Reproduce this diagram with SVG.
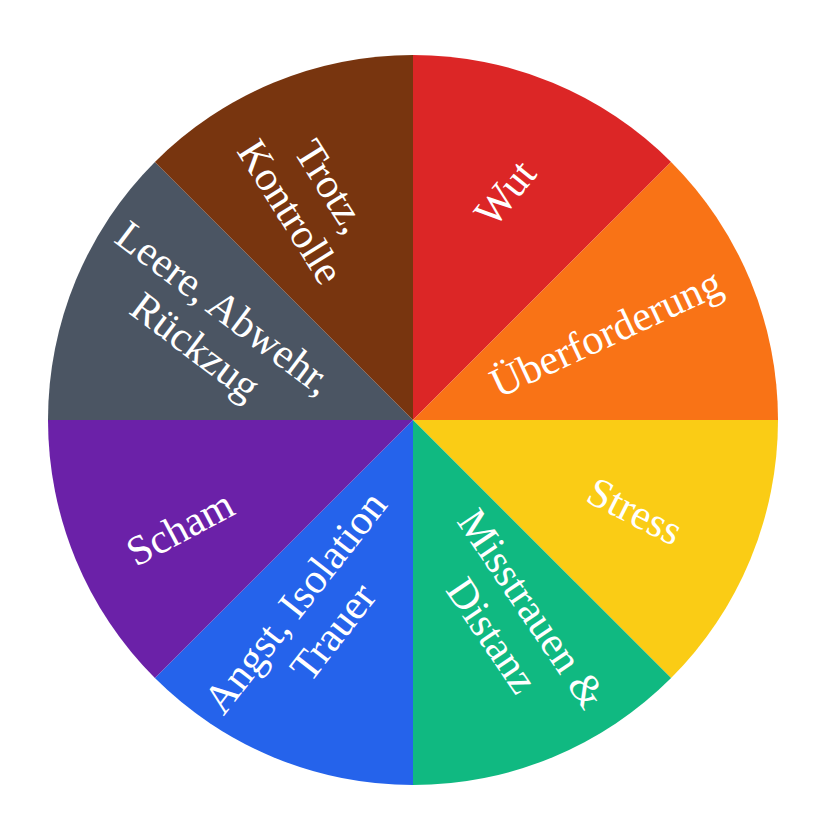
<svg xmlns="http://www.w3.org/2000/svg" width="826" height="826" viewBox="0 0 826 826">
<style>
.lbl{font-family:"Liberation Serif","Times New Roman",serif;font-size:42px;fill:#ffffff;text-anchor:middle}
</style>
<rect width="826" height="826" fill="#ffffff"/>
<g id="slices">
<g id="slice-wut"><path d="M413,420 L413,55 A365,365 0 0 1 671.09,161.91 Z" fill="#dc2626"/></g>
<g id="slice-ueberforderung"><path d="M413,420 L671.09,161.91 A365,365 0 0 1 778,420 Z" fill="#f97316"/></g>
<g id="slice-stress"><path d="M413,420 L778,420 A365,365 0 0 1 671.09,678.09 Z" fill="#facc15"/></g>
<g id="slice-misstrauen"><path d="M413,420 L671.09,678.09 A365,365 0 0 1 413,785 Z" fill="#10b981"/></g>
<g id="slice-angst"><path d="M413,420 L413,785 A365,365 0 0 1 154.91,678.09 Z" fill="#2563eb"/></g>
<g id="slice-scham"><path d="M413,420 L154.91,678.09 A365,365 0 0 1 48,420 Z" fill="#6b21a8"/></g>
<g id="slice-leere"><path d="M413,420 L48,420 A365,365 0 0 1 154.91,161.91 Z" fill="#4b5563"/></g>
<g id="slice-trotz"><path d="M413,420 L154.91,161.91 A365,365 0 0 1 413,55 Z" fill="#78350f"/></g>
</g>
<g id="labels">
<g id="label-wut" transform="translate(505,193) rotate(-51)"><text class="lbl" x="0" y="14">Wut</text></g>
<g id="label-ueberforderung" transform="translate(606,333) rotate(-25)"><text class="lbl" x="0" y="14">Überforderung</text></g>
<g id="label-stress" transform="translate(635,511) rotate(27)"><text class="lbl" x="0" y="14">Stress</text></g>
<g id="label-misstrauen" transform="translate(512,622) rotate(56)"><text class="lbl" x="0" y="-10">Misstrauen &amp;</text><text class="lbl" x="0" y="38">Distanz</text></g>
<g id="label-angst" transform="translate(314,617) rotate(-52)"><text class="lbl" x="0" y="-10">Angst, Isolation</text><text class="lbl" x="0" y="38">Trauer</text></g>
<g id="label-scham" transform="translate(180,528) rotate(-28)"><text class="lbl" x="0" y="14">Scham</text></g>
<g id="label-leere" transform="translate(210,327) rotate(37)"><text class="lbl" x="0" y="-10">Leere, Abwehr,</text><text class="lbl" x="0" y="38">Rückzug</text></g>
<g id="label-trotz" transform="translate(311,199) rotate(58)"><text class="lbl" x="0" y="-10">Trotz,</text><text class="lbl" x="0" y="38">Kontrolle</text></g>
</g>
</svg>
